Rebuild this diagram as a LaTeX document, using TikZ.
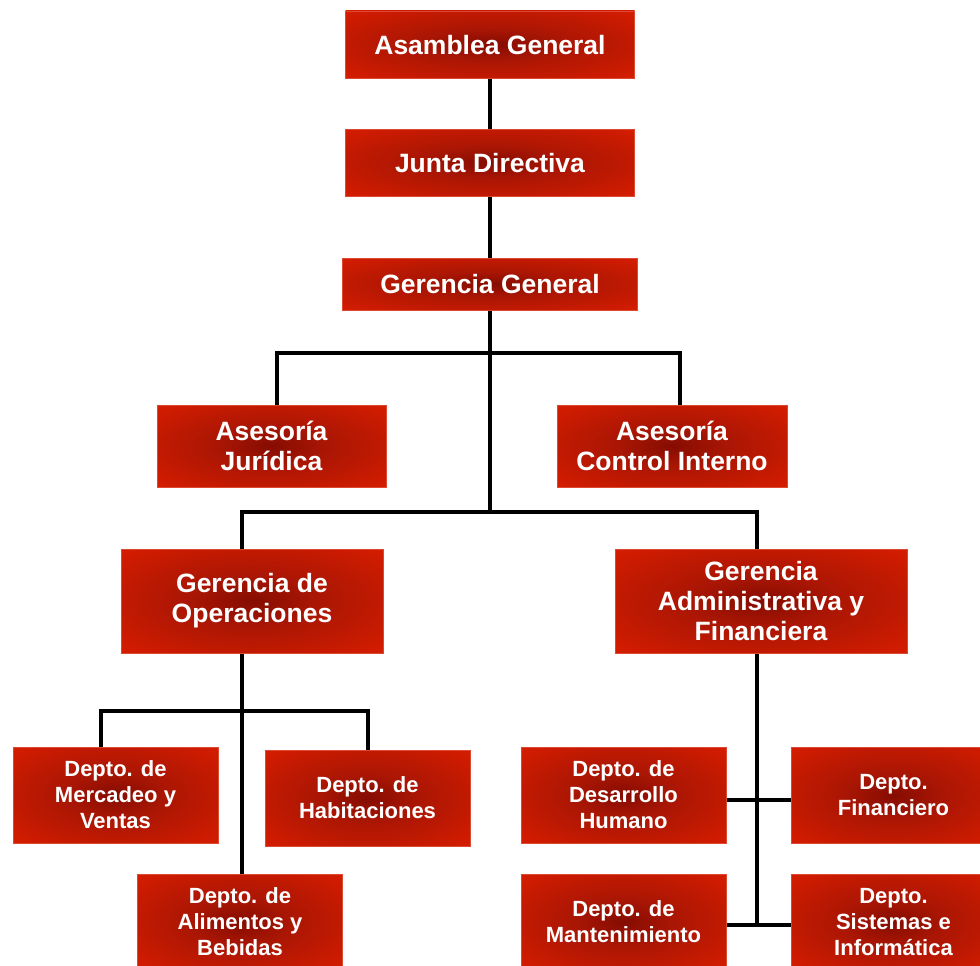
\documentclass[tikz,border=0pt]{standalone}
\usepackage{fontspec}
\setmainfont{Liberation Sans}
\usetikzlibrary{calc,backgrounds}
\definecolor{boxdark}{HTML}{850C02}
\definecolor{boxmid}{HTML}{AA1604}
\definecolor{boxbright}{HTML}{D31C00}
\pgfdeclareradialshading{orgshade}{\pgfpoint{0bp}{0bp}}{color(0bp)=(boxdark); color(12bp)=(boxmid); color(34bp)=(boxbright); color(50bp)=(boxbright)}
\tikzset{
  orgbox/.style={rectangle, shading=orgshade, draw=boxbright!80!white, line width=0.6pt,
    text=white, align=center, inner sep=0pt, font=\bfseries\fontsize{26.5}{30}\selectfont},
  deptbox/.style={orgbox, minimum width=205pt, minimum height=96pt, font=\bfseries\fontsize{22}{26}\selectfont},
  link/.style={line width=4pt, black, line join=miter}
}
\begin{document}
\begin{tikzpicture}[x=1pt,y=-1pt]
\useasboundingbox (0,0) rectangle (980,966);
\clip (0,0) rectangle (980,966);
\coordinate (bus1) at (490,353);
\coordinate (bus2) at (490,512);
\coordinate (bus3) at (242,711);
\coordinate (cr1) at (757,800);
\coordinate (cr2) at (757,925);
\coordinate (gafend) at (757,927);

\node[orgbox, minimum width=289pt, minimum height=67pt] (ag) at (490,44.5) {\raisebox{-3pt}[0.75em][0.2em]{Asamblea General}};
\node[orgbox, minimum width=289pt, minimum height=67pt] (jd) at (490,162.5) {\raisebox{-3pt}[0.75em][0.2em]{Junta Directiva}};
\node[orgbox, minimum width=295pt, minimum height=52pt] (gg) at (490,284) {\raisebox{-2pt}[0.75em][0.2em]{Gerencia General}};
\node[orgbox, minimum width=229pt, minimum height=82pt] (aj) at (271.5,446) {Asesoría\\Jurídica};
\node[orgbox, minimum width=230pt, minimum height=82pt] (aci) at (672,446) {Asesoría\\Control Interno};
\node[orgbox, minimum width=262pt, minimum height=104pt] (go) at (252,601) {Gerencia de\\Operaciones};
\node[orgbox, minimum width=292pt, minimum height=104pt] (gaf) at (761,601) {Gerencia\\Administrativa y\\Financiera};
\node[deptbox] (mv) at (115.5,795) {Depto. de\\Mercadeo y\\Ventas};
\node[deptbox] (hab) at (367.5,798) {Depto. de\\Habitaciones};
\node[deptbox] (ali) at (240,922) {Depto. de\\Alimentos y\\Bebidas};
\node[deptbox] (dh) at (623.5,795) {Depto. de\\Desarrollo\\Humano};
\node[deptbox] (fin) at (893.5,795) {Depto.\\Financiero};
\node[deptbox] (man) at (623.5,922) {Depto. de\\Mantenimiento};
\node[deptbox] (sis) at (893.5,922) {Depto.\\Sistemas e\\Informática};

\begin{scope}[on background layer]
\draw[link] (ag) -- (jd);
\draw[link] (jd) -- (gg);
\draw[link] (gg.south) -- (bus2);
\draw[link] ($(aj.north)+(5.5,0)$) |- (bus1) -| ($(aci.north)+(8,0)$);
\draw[link] ($(go.north)+(-10,0)$) |- (bus2) -| ($(gaf.north)+(-4,0)$);
\draw[link] (bus3 |- go.south) -- (bus3 |- ali.north);
\draw[link] ($(mv.north)+(-14.5,0)$) |- (bus3) -| (hab.north);
\draw[link] (cr1 |- gaf.south) -- (gafend);
\draw[link] (dh.east |- cr1) -- (fin.west |- cr1);
\draw[link] (man.east |- cr2) -- (sis.west |- cr2);
\end{scope}
\end{tikzpicture}
\end{document}
